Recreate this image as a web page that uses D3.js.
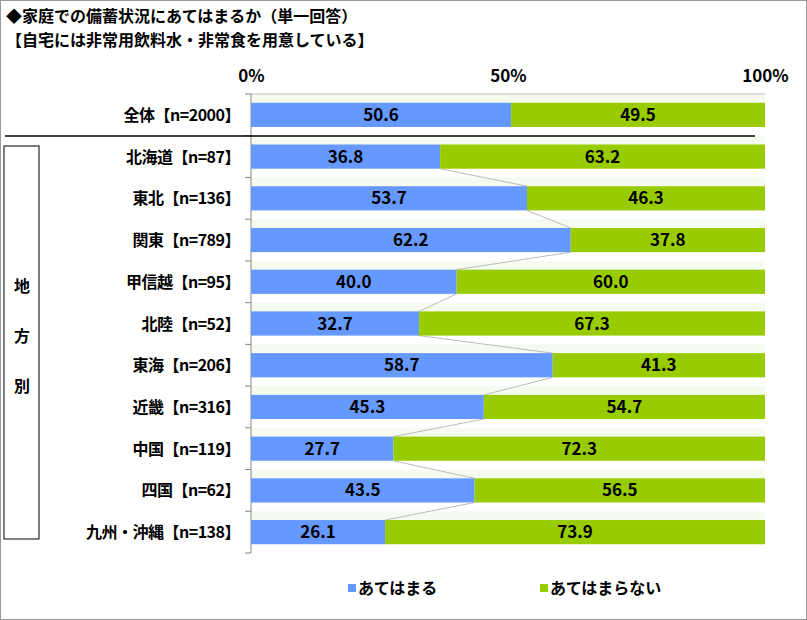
<!DOCTYPE html><html><head><meta charset="utf-8"><script src="https://cdn.jsdelivr.net/npm/d3@7"></script>
<style>body{margin:0;background:#fff}text{font-family:"Noto Sans CJK JP",sans-serif;font-weight:bold}</style></head><body>
<svg id="c" width="807" height="620"></svg>
<script>
const categories=["全体【n=2000】","北海道【n=87】","東北【n=136】","関東【n=789】","甲信越【n=95】","北陸【n=52】","東海【n=206】","近畿【n=316】","中国【n=119】","四国【n=62】","九州・沖縄【n=138】"];
const yes=[50.6,36.8,53.7,62.2,40.0,32.7,58.7,45.3,27.7,43.5,26.1];
const no=[49.5,63.2,46.3,37.8,60.0,67.3,41.3,54.7,72.3,56.5,73.9];
const ticks=[0,50,100];
const seriesNames=["あてはまる","あてはまらない"];
const colors=["#6699ff","#99cc00"];
const svg=d3.select("#c");
svg.append("rect").attr("x",0.5).attr("y",0.5).attr("width",806).attr("height",619).attr("fill","none").attr("stroke","#999");
svg.append("text").attr("x",6).attr("y",22).attr("font-size",16).text("◆家庭での備蓄状況にあてはまるか（単一回答）");
svg.append("text").attr("x",6).attr("y",46).attr("font-size",16).text("【自宅には非常用飲料水・非常食を用意している】");
const x=d3.scaleLinear().domain([0,100]).range([251,765]);
const y=d3.scaleBand().domain(categories).range([94,553]).paddingInner(0.42).paddingOuter(0.21);
const band=(553-94)/categories.length;
categories.forEach((c,i)=>{svg.append("rect").attr("x",251).attr("y",94+i*band).attr("width",514).attr("height",band/2+6).attr("fill","#f6fbef");});
svg.append("g").attr("transform","translate(0,94)").call(d3.axisTop(x).tickValues(ticks).tickFormat(d=>d+"%").tickSize(0).tickPadding(12))
 .call(g=>{g.select(".domain").remove();g.selectAll("text").attr("font-size",17).attr("font-weight","bold").attr("font-family","Liberation Sans,Arial").attr("fill","#000");});
svg.append("line").attr("x1",251).attr("x2",765).attr("y1",94).attr("y2",94).attr("stroke","#bbb");
svg.append("line").attr("x1",251).attr("x2",251).attr("y1",94).attr("y2",553).attr("stroke","#888");
svg.append("line").attr("x1",245).attr("x2",251).attr("y1",553).attr("y2",553).attr("stroke","#888");
categories.forEach((c,i)=>svg.append("line").attr("x1",245).attr("x2",251).attr("y1",94+i*band).attr("y2",94+i*band).attr("stroke","#888"));
for(let i=1;i<categories.length-1;i++){svg.append("line").attr("x1",x(yes[i])).attr("y1",y(categories[i])+y.bandwidth()).attr("x2",x(yes[i+1])).attr("y2",y(categories[i+1])).attr("stroke","#bbb");}
const g=svg.append("g");
categories.forEach((c,i)=>{
 const y0=y(c),h=y.bandwidth();
 g.append("rect").attr("x",x(0)).attr("y",y0).attr("width",x(yes[i])-x(0)).attr("height",h).attr("fill",colors[0]);
 g.append("rect").attr("x",x(yes[i])).attr("y",y0).attr("width",x(100)-x(yes[i])).attr("height",h).attr("fill",colors[1]);
 g.append("text").attr("x",(x(0)+x(yes[i]))/2).attr("y",y0+h/2+6).attr("text-anchor","middle").attr("font-size",17).attr("font-family","Liberation Sans,Arial").text(yes[i].toFixed(1));
 g.append("text").attr("x",(x(yes[i])+x(100))/2).attr("y",y0+h/2+6).attr("text-anchor","middle").attr("font-size",17).attr("font-family","Liberation Sans,Arial").text(no[i].toFixed(1));
 svg.append("text").attr("x",240).attr("y",y0+h/2+6).attr("text-anchor","end").attr("font-size",16).attr("letter-spacing",-0.5).text(c);
});
svg.append("line").attr("x1",5).attr("x2",755).attr("y1",136).attr("y2",136).attr("stroke","#000").attr("stroke-width",1.3);
svg.append("rect").attr("x",4).attr("y",146).attr("width",35).attr("height",393).attr("fill","none").attr("stroke","#000");
["地","方","別"].forEach((t,i)=>svg.append("text").attr("x",22).attr("y",292+i*50).attr("text-anchor","middle").attr("font-size",16).text(t));
const lx=[348,540];
seriesNames.forEach((s,i)=>{svg.append("rect").attr("x",lx[i]).attr("y",584).attr("width",8).attr("height",8).attr("fill",colors[i]);
 svg.append("text").attr("x",lx[i]+10).attr("y",594).attr("font-size",16).text(s);});
</script></body></html>
